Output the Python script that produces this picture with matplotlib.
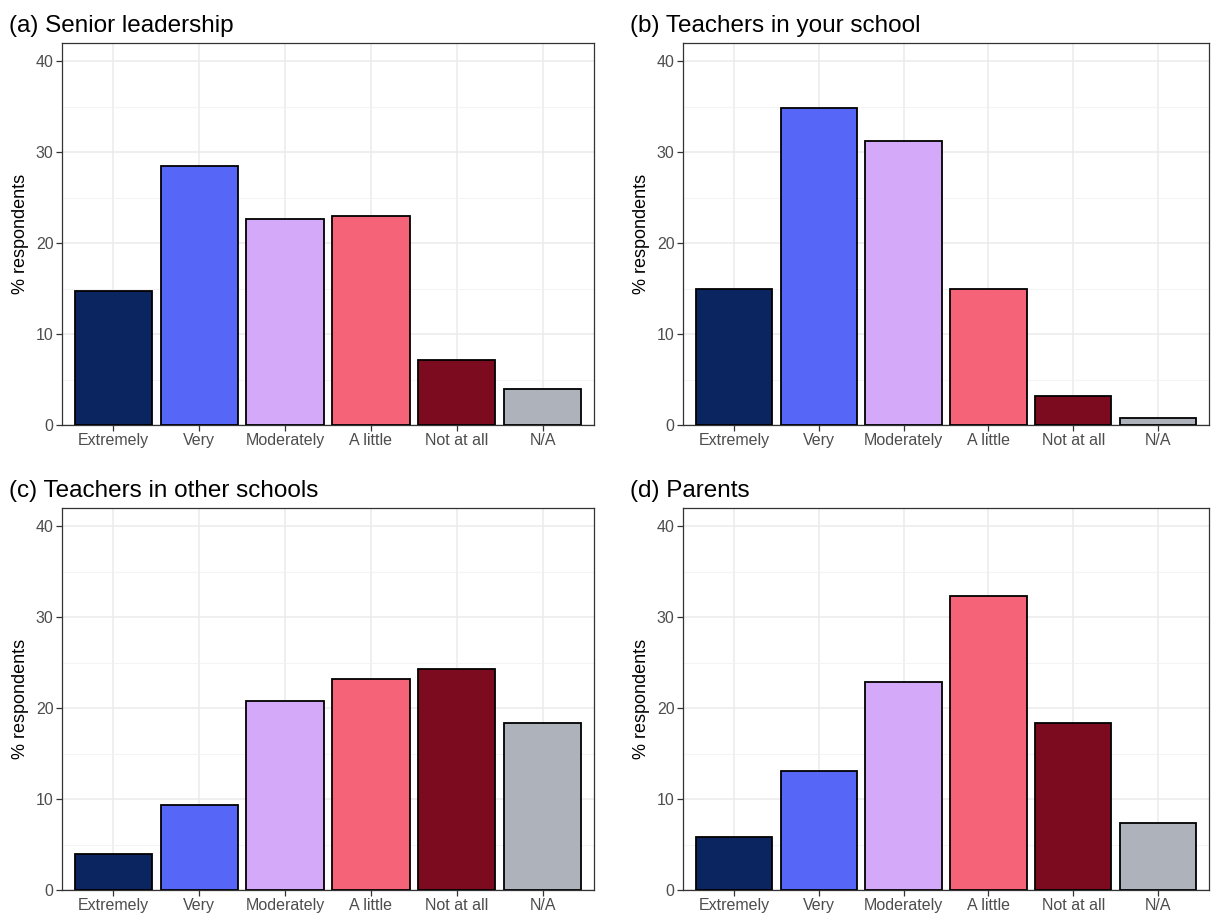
import numpy as np
import matplotlib.pyplot as plt

plt.rcParams['font.family'] = ['Liberation Sans', 'DejaVu Sans']

categories = ['Extremely', 'Very', 'Moderately', 'A little', 'Not at all', 'N/A']
bar_colors = ['#0B2561', '#5667F8', '#D4A9FA', '#F46377', '#7D0B1F', '#AEB2BA']

titles = ['(a) Senior leadership', '(b) Teachers in your school',
          '(c) Teachers in other schools', '(d) Parents']

senior = [14.7, 28.5, 22.7, 23.0, 7.2, 4.0]
own_school = [15.0, 34.9, 31.2, 15.0, 3.2, 0.8]
other_schools = [4.0, 9.35, 20.8, 23.2, 24.3, 18.4]
parents = [5.8, 13.1, 22.9, 32.3, 18.4, 7.4]

series = [senior, own_school, other_schools, parents]

fig = plt.figure(figsize=(12.13, 9.14), dpi=100)

# axes boxes in pixels: left, right, top, bottom
W, H = 1213, 914
boxes = [(62, 594, 43, 425), (683, 1209, 43, 425),
         (62, 594, 508, 890), (683, 1209, 508, 890)]

x = np.arange(1, len(categories) + 1)
for (l, r, t, b), vals, title in zip(boxes, series, titles):
    ax = fig.add_axes([l / W, 1 - b / H, (r - l) / W, (b - t) / H])
    ax.set_xlim(0.4, 6.6)
    ax.set_ylim(0, 42)
    ax.set_yticks([0, 10, 20, 30, 40])
    ax.set_yticks([5, 15, 25, 35], minor=True)
    ax.set_xticks(x)
    ax.set_xticklabels(categories)
    ax.grid(True, which='major', color='#EBEBEB', linewidth=1.1, zorder=0)
    ax.grid(True, which='minor', axis='y', color='#F2F2F2', linewidth=0.6, zorder=0)
    ax.set_axisbelow(True)
    ax.bar(x, vals, width=0.9, color=bar_colors, edgecolor='black',
           linewidth=1.3, zorder=3)
    for s in ax.spines.values():
        s.set_color('#333333')
        s.set_linewidth(0.9)
    ax.tick_params(axis='both', which='major', colors='#333333', length=4,
                   width=0.9, labelsize=11.5, labelcolor='#4D4D4D', pad=2)
    ax.tick_params(axis='y', which='minor', length=0)
    ax.set_ylabel('% respondents', fontsize=13, labelpad=5)
    ax.set_title(title, loc='left', fontsize=17.5, x=-0.1, pad=8)

fig.savefig('out.png', dpi=100)
